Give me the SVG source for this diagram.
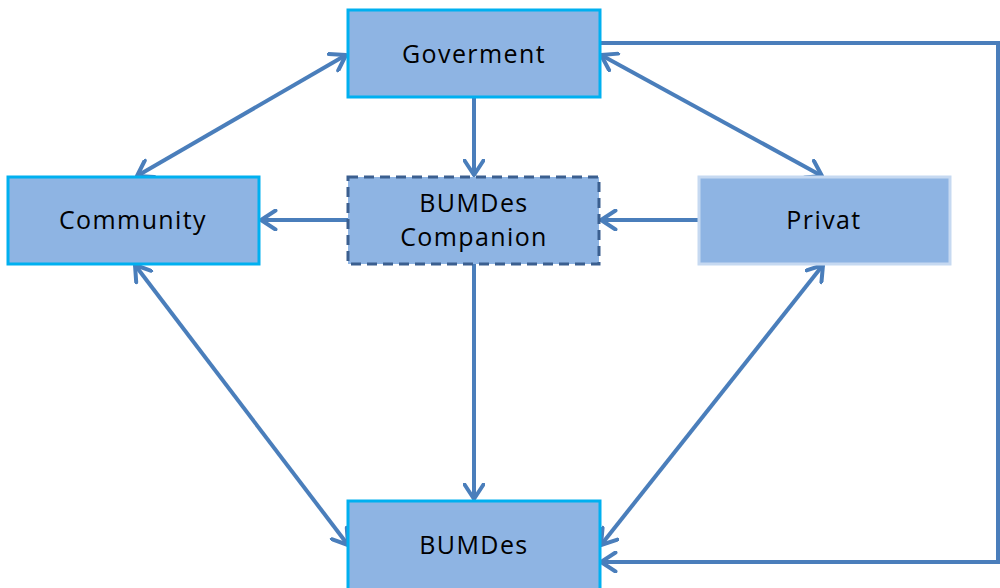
<svg xmlns="http://www.w3.org/2000/svg" width="1000" height="588" viewBox="0 0 1000 588">
<defs>
<style>
.box{fill:#8EB4E3;stroke:#00B0F0;stroke-width:3}
.dash{fill:#8EB4E3;stroke:#3B5F8F;stroke-width:3;stroke-dasharray:10 6}
.light{fill:#8EB4E3;stroke:#C6D9F1;stroke-width:3}
.lbl{font-family:"Open Sans",sans-serif;font-size:25px;letter-spacing:1.4px;fill:#000;text-anchor:middle}
.c{fill:none;stroke:#4A7EBB;stroke-width:4}
</style>
<marker id="a" viewBox="0 0 18 22" refX="16.5" refY="11" markerWidth="18" markerHeight="22" markerUnits="userSpaceOnUse" orient="auto-start-reverse">
<path d="M2,1.5 L16.5,11 L2,20.5" fill="none" stroke="#4A7EBB" stroke-width="4" stroke-linecap="round" stroke-linejoin="round"/>
</marker>
</defs>
<g id="connectors">
<line class="c" x1="474" y1="97" x2="474" y2="175" marker-end="url(#a)"/>
<line class="c" x1="348" y1="220" x2="261" y2="220" marker-end="url(#a)"/>
<line class="c" x1="699" y1="220" x2="601" y2="220" marker-end="url(#a)"/>
<line class="c" x1="474" y1="264" x2="474" y2="499" marker-end="url(#a)"/>
<line class="c" x1="346" y1="55" x2="137" y2="176" marker-start="url(#a)" marker-end="url(#a)"/>
<line class="c" x1="601" y1="55" x2="822" y2="176" marker-start="url(#a)" marker-end="url(#a)"/>
<line class="c" x1="135" y1="265" x2="348" y2="545" marker-start="url(#a)" marker-end="url(#a)"/>
<line class="c" x1="823" y1="265" x2="601" y2="545" marker-start="url(#a)" marker-end="url(#a)"/>
<polyline class="c" points="600,43 998,43 998,562 601,562" marker-end="url(#a)"/>
</g>
<g id="goverment"><rect class="box" x="348" y="10" width="252" height="87"/><text class="lbl" x="474" y="63">Goverment</text></g>
<g id="community"><rect class="box" x="8" y="177" width="251" height="87"/><text class="lbl" x="133" y="229">Community</text></g>
<g id="companion"><rect class="dash" x="348" y="177" width="251" height="87"/><text class="lbl" x="474" y="212">BUMDes</text><text class="lbl" x="474" y="246">Companion</text></g>
<g id="privat"><rect class="light" x="699" y="177" width="251" height="87"/><text class="lbl" x="824" y="229">Privat</text></g>
<g id="bumdes"><rect class="box" x="348" y="501" width="252" height="90"/><text class="lbl" x="474" y="554">BUMDes</text></g>
</svg>
